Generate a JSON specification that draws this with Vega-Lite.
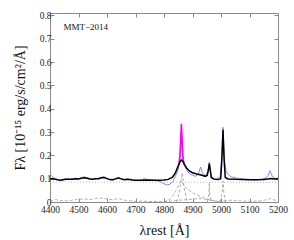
{
  "$schema": "https://vega.github.io/schema/vega-lite/v6.json",
  "width": 228,
  "height": 189,
  "autosize": {"type": "none"},
  "padding": {"left": 50, "top": 13, "right": 16, "bottom": 38},
  "background": "white",
  "config": {
    "view": {"stroke": "#8a8a8a", "strokeWidth": 1},
    "font": "Liberation Serif",
    "axis": {"labelFont": "Liberation Serif", "titleFont": "Liberation Serif", "labelFontSize": 9.5, "titleFontSize": 14, "titleFontWeight": "normal", "labelColor": "#222", "titleColor": "#111", "domainColor": "#8a8a8a", "tickColor": "#8a8a8a", "grid": false, "labelOverlap": false, "labelFlush": false}
  },
  "datasets": {
    "obs": [
      {"lam": 4400, "f": 0.108}, {"lam": 4405, "f": 0.112}, {"lam": 4410, "f": 0.106}, {"lam": 4420, "f": 0.1}, {"lam": 4430, "f": 0.096}, {"lam": 4440, "f": 0.095},
      {"lam": 4450, "f": 0.099}, {"lam": 4460, "f": 0.1}, {"lam": 4470, "f": 0.097}, {"lam": 4480, "f": 0.1}, {"lam": 4490, "f": 0.102},
      {"lam": 4500, "f": 0.1}, {"lam": 4510, "f": 0.104}, {"lam": 4520, "f": 0.108}, {"lam": 4530, "f": 0.104}, {"lam": 4540, "f": 0.1},
      {"lam": 4550, "f": 0.098}, {"lam": 4560, "f": 0.102}, {"lam": 4570, "f": 0.1}, {"lam": 4580, "f": 0.106}, {"lam": 4590, "f": 0.108},
      {"lam": 4600, "f": 0.101}, {"lam": 4610, "f": 0.096}, {"lam": 4620, "f": 0.094}, {"lam": 4630, "f": 0.1}, {"lam": 4640, "f": 0.105},
      {"lam": 4650, "f": 0.1}, {"lam": 4660, "f": 0.095}, {"lam": 4670, "f": 0.098}, {"lam": 4680, "f": 0.096}, {"lam": 4690, "f": 0.095},
      {"lam": 4700, "f": 0.093}, {"lam": 4710, "f": 0.092}, {"lam": 4720, "f": 0.094}, {"lam": 4730, "f": 0.1}, {"lam": 4740, "f": 0.096},
      {"lam": 4750, "f": 0.095}, {"lam": 4760, "f": 0.094}, {"lam": 4770, "f": 0.092}, {"lam": 4780, "f": 0.09}, {"lam": 4790, "f": 0.085},
      {"lam": 4800, "f": 0.078}, {"lam": 4810, "f": 0.073}, {"lam": 4820, "f": 0.076}, {"lam": 4830, "f": 0.086}, {"lam": 4840, "f": 0.11},
      {"lam": 4850, "f": 0.14}, {"lam": 4856, "f": 0.175}, {"lam": 4861, "f": 0.3}, {"lam": 4866, "f": 0.18}, {"lam": 4872, "f": 0.155},
      {"lam": 4880, "f": 0.135}, {"lam": 4890, "f": 0.12}, {"lam": 4900, "f": 0.115}, {"lam": 4910, "f": 0.11}, {"lam": 4920, "f": 0.118},
      {"lam": 4928, "f": 0.15}, {"lam": 4935, "f": 0.125}, {"lam": 4945, "f": 0.112}, {"lam": 4954, "f": 0.13}, {"lam": 4959, "f": 0.17},
      {"lam": 4964, "f": 0.12}, {"lam": 4972, "f": 0.1}, {"lam": 4985, "f": 0.098}, {"lam": 4997, "f": 0.11}, {"lam": 5003, "f": 0.2},
      {"lam": 5007, "f": 0.32}, {"lam": 5012, "f": 0.18}, {"lam": 5018, "f": 0.13}, {"lam": 5025, "f": 0.12}, {"lam": 5035, "f": 0.108},
      {"lam": 5050, "f": 0.104}, {"lam": 5065, "f": 0.1}, {"lam": 5080, "f": 0.098}, {"lam": 5100, "f": 0.097}, {"lam": 5120, "f": 0.095},
      {"lam": 5140, "f": 0.098}, {"lam": 5155, "f": 0.102}, {"lam": 5165, "f": 0.112}, {"lam": 5172, "f": 0.135}, {"lam": 5180, "f": 0.11},
      {"lam": 5190, "f": 0.1}, {"lam": 5200, "f": 0.103}
    ],
    "model": [
      {"lam": 4400, "f": 0.1}, {"lam": 4410, "f": 0.1}, {"lam": 4420, "f": 0.097}, {"lam": 4430, "f": 0.094}, {"lam": 4440, "f": 0.093},
      {"lam": 4450, "f": 0.096}, {"lam": 4460, "f": 0.098}, {"lam": 4470, "f": 0.097}, {"lam": 4480, "f": 0.098}, {"lam": 4490, "f": 0.1},
      {"lam": 4500, "f": 0.099}, {"lam": 4510, "f": 0.102}, {"lam": 4520, "f": 0.104}, {"lam": 4530, "f": 0.102}, {"lam": 4540, "f": 0.099},
      {"lam": 4550, "f": 0.098}, {"lam": 4560, "f": 0.1}, {"lam": 4570, "f": 0.1}, {"lam": 4580, "f": 0.104}, {"lam": 4590, "f": 0.105},
      {"lam": 4600, "f": 0.1}, {"lam": 4610, "f": 0.096}, {"lam": 4620, "f": 0.095}, {"lam": 4630, "f": 0.099}, {"lam": 4640, "f": 0.103},
      {"lam": 4650, "f": 0.099}, {"lam": 4660, "f": 0.095}, {"lam": 4670, "f": 0.097}, {"lam": 4680, "f": 0.096}, {"lam": 4690, "f": 0.094},
      {"lam": 4700, "f": 0.093}, {"lam": 4720, "f": 0.093}, {"lam": 4740, "f": 0.094}, {"lam": 4760, "f": 0.093}, {"lam": 4780, "f": 0.093},
      {"lam": 4800, "f": 0.094}, {"lam": 4815, "f": 0.097}, {"lam": 4830, "f": 0.106}, {"lam": 4840, "f": 0.125}, {"lam": 4850, "f": 0.155},
      {"lam": 4856, "f": 0.172}, {"lam": 4861, "f": 0.18}, {"lam": 4866, "f": 0.175}, {"lam": 4872, "f": 0.16}, {"lam": 4880, "f": 0.145},
      {"lam": 4890, "f": 0.132}, {"lam": 4900, "f": 0.125}, {"lam": 4915, "f": 0.12}, {"lam": 4930, "f": 0.116}, {"lam": 4945, "f": 0.11},
      {"lam": 4952, "f": 0.115}, {"lam": 4956, "f": 0.14}, {"lam": 4959, "f": 0.165}, {"lam": 4962, "f": 0.14}, {"lam": 4966, "f": 0.105},
      {"lam": 4975, "f": 0.098}, {"lam": 4990, "f": 0.096}, {"lam": 4999, "f": 0.1}, {"lam": 5003, "f": 0.18}, {"lam": 5007, "f": 0.31},
      {"lam": 5011, "f": 0.18}, {"lam": 5015, "f": 0.105}, {"lam": 5025, "f": 0.099}, {"lam": 5050, "f": 0.097}, {"lam": 5075, "f": 0.096},
      {"lam": 5100, "f": 0.095}, {"lam": 5125, "f": 0.095}, {"lam": 5150, "f": 0.096}, {"lam": 5165, "f": 0.099}, {"lam": 5175, "f": 0.101},
      {"lam": 5190, "f": 0.099}, {"lam": 5200, "f": 0.1}
    ],
    "hbn": [
      {"lam": 4852, "f": 0.16}, {"lam": 4856, "f": 0.2}, {"lam": 4859, "f": 0.28}, {"lam": 4861, "f": 0.335}, {"lam": 4863, "f": 0.28},
      {"lam": 4866, "f": 0.2}, {"lam": 4870, "f": 0.162}
    ],
    "cont": [
      {"lam": 4400, "f": 0.086}, {"lam": 5200, "f": 0.084}
    ],
    "comp": [
      {"s": "fe", "lam": 4400, "f": 0.005}, {"s": "fe", "lam": 4420, "f": 0.01}, {"s": "fe", "lam": 4440, "f": 0.006}, {"s": "fe", "lam": 4460, "f": 0.005},
      {"s": "fe", "lam": 4480, "f": 0.008}, {"s": "fe", "lam": 4500, "f": 0.012}, {"s": "fe", "lam": 4520, "f": 0.013}, {"s": "fe", "lam": 4540, "f": 0.01},
      {"s": "fe", "lam": 4560, "f": 0.015}, {"s": "fe", "lam": 4580, "f": 0.017}, {"s": "fe", "lam": 4600, "f": 0.013}, {"s": "fe", "lam": 4620, "f": 0.01},
      {"s": "fe", "lam": 4640, "f": 0.015}, {"s": "fe", "lam": 4660, "f": 0.008}, {"s": "fe", "lam": 4680, "f": 0.005}, {"s": "fe", "lam": 4700, "f": 0.003},
      {"s": "fe", "lam": 4720, "f": 0.004}, {"s": "fe", "lam": 4740, "f": 0.003}, {"s": "fe", "lam": 4760, "f": 0.002}, {"s": "fe", "lam": 4780, "f": 0.002},
      {"s": "fe", "lam": 4800, "f": 0.003}, {"s": "fe", "lam": 4820, "f": 0.004}, {"s": "fe", "lam": 4840, "f": 0.006}, {"s": "fe", "lam": 4860, "f": 0.008},
      {"s": "fe", "lam": 4880, "f": 0.01}, {"s": "fe", "lam": 4900, "f": 0.012}, {"s": "fe", "lam": 4920, "f": 0.015}, {"s": "fe", "lam": 4940, "f": 0.013},
      {"s": "fe", "lam": 4960, "f": 0.008}, {"s": "fe", "lam": 4980, "f": 0.004}, {"s": "fe", "lam": 5000, "f": 0.003}, {"s": "fe", "lam": 5020, "f": 0.006},
      {"s": "fe", "lam": 5040, "f": 0.008}, {"s": "fe", "lam": 5060, "f": 0.005}, {"s": "fe", "lam": 5080, "f": 0.004}, {"s": "fe", "lam": 5100, "f": 0.003},
      {"s": "fe", "lam": 5120, "f": 0.004}, {"s": "fe", "lam": 5140, "f": 0.005}, {"s": "fe", "lam": 5160, "f": 0.01}, {"s": "fe", "lam": 5170, "f": 0.015},
      {"s": "fe", "lam": 5180, "f": 0.01}, {"s": "fe", "lam": 5200, "f": 0.006},
      {"s": "hbb", "lam": 4800, "f": 0.0}, {"s": "hbb", "lam": 4820, "f": 0.01}, {"s": "hbb", "lam": 4830, "f": 0.025}, {"s": "hbb", "lam": 4840, "f": 0.045},
      {"s": "hbb", "lam": 4850, "f": 0.07}, {"s": "hbb", "lam": 4861, "f": 0.09}, {"s": "hbb", "lam": 4870, "f": 0.072}, {"s": "hbb", "lam": 4880, "f": 0.056},
      {"s": "hbb", "lam": 4900, "f": 0.04}, {"s": "hbb", "lam": 4920, "f": 0.028}, {"s": "hbb", "lam": 4940, "f": 0.018}, {"s": "hbb", "lam": 4960, "f": 0.01},
      {"s": "hbb", "lam": 4980, "f": 0.004}, {"s": "hbb", "lam": 5000, "f": 0.0},
      {"s": "hbi", "lam": 4845, "f": 0.0}, {"s": "hbi", "lam": 4855, "f": 0.05}, {"s": "hbi", "lam": 4864, "f": 0.125}, {"s": "hbi", "lam": 4872, "f": 0.05},
      {"s": "hbi", "lam": 4882, "f": 0.0},
      {"s": "o1", "lam": 4952, "f": 0.0}, {"s": "o1", "lam": 4957, "f": 0.03}, {"s": "o1", "lam": 4959, "f": 0.085}, {"s": "o1", "lam": 4961, "f": 0.03},
      {"s": "o1", "lam": 4966, "f": 0.0},
      {"s": "o2", "lam": 4998, "f": 0.0}, {"s": "o2", "lam": 5004, "f": 0.04}, {"s": "o2", "lam": 5007, "f": 0.09}, {"s": "o2", "lam": 5010, "f": 0.04},
      {"s": "o2", "lam": 5016, "f": 0.0}
    ],
    "lbl": [{"lam": 4447, "f": 0.75, "t": "MMT−2014"}]
  },
  "layer": [
    {
      "data": {"name": "comp"},
      "mark": {"type": "line", "color": "#8c8c8c", "strokeWidth": 0.7, "strokeDash": [3, 2]},
      "encoding": {
        "x": {"field": "lam", "type": "quantitative", "scale": {"domain": [4400, 5200], "nice": false},
          "axis": {"orient": "bottom", "title": "λrest  [Å]", "values": [4400, 4500, 4600, 4700, 4800, 4900, 5000, 5100, 5200], "format": "d", "tickSize": -4, "labelPadding": 6, "titlePadding": 10, "domain": false}},
        "y": {"field": "f", "type": "quantitative", "scale": {"domain": [0, 0.81], "nice": false, "zero": false},
          "axis": {"orient": "left", "title": "Fλ  [10⁻¹⁵ erg/s/cm²/Å]", "values": [0, 0.1, 0.2, 0.3, 0.4, 0.5, 0.6, 0.7, 0.8], "labelExpr": "datum.value == 0 ? '0' : format(datum.value, '.1f')", "tickSize": -4, "labelPadding": 3, "titlePadding": 12, "domain": false}},
        "detail": {"field": "s"}
      }
    },
    {
      "data": {"name": "cont"},
      "mark": {"type": "line", "color": "#aaaaaa", "strokeWidth": 0.8, "strokeDash": [1, 2]},
      "encoding": {
        "x": {"field": "lam", "type": "quantitative", "axis": {"orient": "top", "title": null, "labels": false, "values": [4400, 4500, 4600, 4700, 4800, 4900, 5000, 5100, 5200], "tickSize": -4, "domain": false}},
        "y": {"field": "f", "type": "quantitative", "axis": {"orient": "right", "title": null, "labels": false, "values": [0, 0.1, 0.2, 0.3, 0.4, 0.5, 0.6, 0.7, 0.8], "tickSize": -4, "domain": false}}
      }
    },
    {
      "data": {"name": "obs"},
      "mark": {"type": "line", "color": "#6a6af8", "strokeWidth": 0.9, "opacity": 0.9},
      "encoding": {"x": {"field": "lam", "type": "quantitative", "axis": null}, "y": {"field": "f", "type": "quantitative", "axis": null}}
    },
    {
      "data": {"name": "hbn"},
      "mark": {"type": "line", "color": "#ff00ff", "strokeWidth": 1.6},
      "encoding": {"x": {"field": "lam", "type": "quantitative", "axis": null}, "y": {"field": "f", "type": "quantitative", "axis": null}}
    },
    {
      "data": {"name": "model"},
      "mark": {"type": "line", "color": "#000000", "strokeWidth": 1.5},
      "encoding": {"x": {"field": "lam", "type": "quantitative", "axis": null}, "y": {"field": "f", "type": "quantitative", "axis": null}}
    },
    {
      "data": {"name": "lbl"},
      "mark": {"type": "text", "align": "left", "baseline": "middle", "font": "Liberation Serif", "fontSize": 9, "color": "#111"},
      "encoding": {"x": {"field": "lam", "type": "quantitative", "axis": null}, "y": {"field": "f", "type": "quantitative", "axis": null}, "text": {"field": "t"}}
    }
  ]
}
